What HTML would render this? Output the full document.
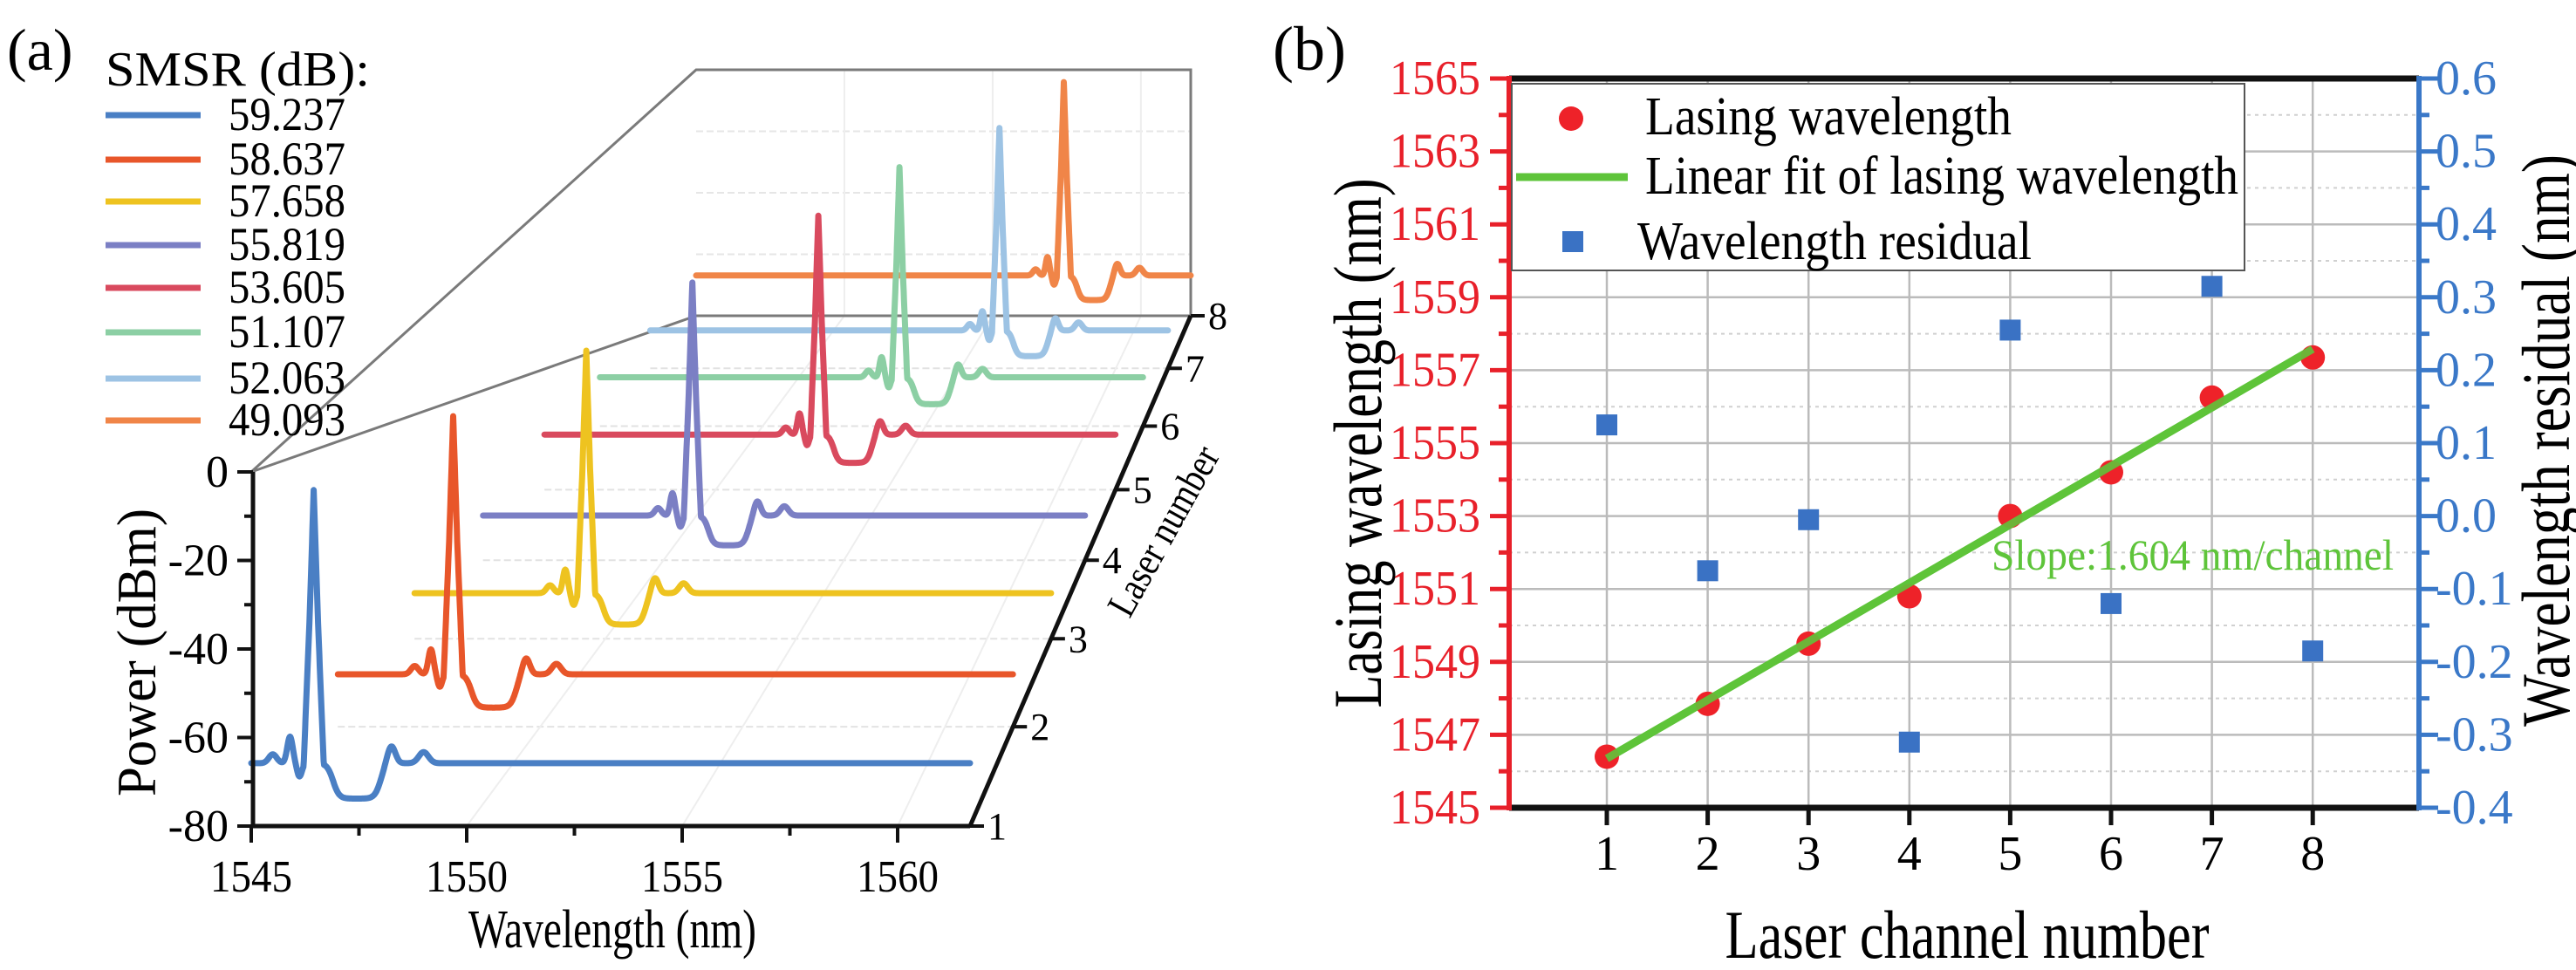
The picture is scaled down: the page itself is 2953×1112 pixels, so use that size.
<!DOCTYPE html>
<html><head><meta charset="utf-8"><style>
html,body{margin:0;padding:0;background:#fff;}
svg, svg text{font-family:"Liberation Serif","Times New Roman",serif;}
</style></head><body>
<svg id="fig" width="2953" height="1107" viewBox="0 0 2953 1107" xmlns="http://www.w3.org/2000/svg" font-family="Liberation Serif, serif">
<g id="pa" font-family="Liberation Serif, serif"></g>
<g id="pb" font-family="Liberation Serif, serif"></g>
</svg>
<script>
// ---------- Panel (a) data ----------
const lasers = [1,2,3,4,5,6,7,8];
const smsrLabels = ["59.237","58.637","57.658","55.819","53.605","51.107","52.063","49.093"];
const traceColors = ["#4a7fc4","#e8562a","#eec320","#7b7fc4","#d94a5e","#8ccfa4","#9dc3e4","#f08548"];
const peakWl = [1546.45,1547.85,1549.5,1550.8,1553.0,1554.2,1556.25,1557.4];
const peakPow = [-4.1,-5.4,-6.7,-5.4,-2.5,-3.1,-5.2,-4.0];
const basePow = [-65.8,-67.4,-68.4,-68.0,-64.4,-65.5,-68.2,-66.9];
const wlTicks = [1545,1550,1555,1560];
const powTicks = [0,-20,-40,-60,-80];
// ---------- Panel (b) data ----------
const channels = [1,2,3,4,5,6,7,8];
const lasingWl = [1546.4,1547.85,1549.5,1550.8,1553.0,1554.2,1556.25,1557.35];
const residual = [0.125,-0.075,-0.005,-0.31,0.255,-0.12,0.315,-0.185];
const fitChannels = [1,8];
const fitWl = [1546.35,1557.58];
const leftTicks = [1565,1563,1561,1559,1557,1555,1553,1551,1549,1547,1545];
const rightTicks = ["0.6","0.5","0.4","0.3","0.2","0.1","0.0","-0.1","-0.2","-0.3","-0.4"];

const NS="http://www.w3.org/2000/svg";
const FF="Liberation Serif, serif";
function mk(parent,tag,attrs,text){const e=document.createElementNS(NS,tag);for(const k in attrs)e.setAttribute(k,attrs[k]);if(tag==='text')e.setAttribute('font-family',FF);if(text!==undefined)e.textContent=text;parent.appendChild(e);return e;}

// ---------- Panel (a) ----------
const pa=document.getElementById('pa');
function proj(w,P,n){const t=(n-1)/7;const u=1.45*t/(1+0.45*t);const fx=(w-1545)/16.68;const fy=(P+80)/80;
 const xF=288+fx*824,yF=947-fy*406,xB=798+fx*567,yB=362-fy*282;return [xF+(xB-xF)*u,yF+(yB-yF)*u];}
for(let n=2;n<=8;n++){const a=proj(1545,-80,n),b=proj(1561.68,-80,n);
 const g=mk(pa,'line',{x1:a[0],y1:a[1],x2:b[0],y2:b[1],stroke:'#e2e2e2','stroke-width':2,'stroke-dasharray':'8 4'});
 
 }
[-20,-40,-60].forEach(p=>{const a=proj(1545,p,8),b=proj(1561.68,p,8);
 const g=mk(pa,'line',{x1:a[0],y1:a[1],x2:b[0],y2:b[1],stroke:'#e6e6e6','stroke-width':2,'stroke-dasharray':'8 4'});
 
 });
[1550,1555,1560].forEach(w=>{const a=proj(w,-80,8),b=proj(w,0,8);
 const g=mk(pa,'line',{x1:a[0],y1:a[1],x2:b[0],y2:b[1],stroke:'#eeeeee','stroke-width':2});
 
 
 const c=proj(w,-80,1);
 const f=mk(pa,'line',{x1:c[0],y1:c[1],x2:a[0],y2:a[1],stroke:'#eeeeee','stroke-width':2});
 
 });
{const tl=proj(1545,0,8),tr=proj(1561.68,0,8),bl=proj(1545,-80,8),br=proj(1561.68,-80,8),ft=proj(1545,0,1);
 const b=mk(pa,'path',{d:`M${ft[0]},${ft[1]}L${tl[0]},${tl[1]}L${tr[0]},${tr[1]}L${br[0]},${br[1]}L${bl[0]},${bl[1]}Z`,fill:'none',stroke:'#7a7a7a','stroke-width':3});
 
 }
const sig=x=>1/(1+Math.exp(-x));
function specVal(w,i){const p=peakWl[i],B=basePow[i],Pk=peakPow[i];
 let v=B;
 v+=6*Math.exp(-Math.pow((w-(p-0.55))/0.09,2));
 v-=3*Math.exp(-Math.pow((w-(p-0.33))/0.08,2));
 const d=w-p;
 v-=8*sig((d-0.45)/0.07)*sig((1.55-d)/0.07);
 v+=4*Math.exp(-Math.pow((w-(p+1.8))/0.13,2));
 v+=2.5*Math.exp(-Math.pow((w-(p+2.55))/0.16,2));
 v+=2*Math.exp(-Math.pow((w-(p-0.95))/0.13,2));
 const pk=Pk-300*Math.abs(d)+60*Math.max(0,Math.abs(d)-0.1);
 return Math.max(v,pk);}
for(let i=7;i>=0;i--){let pts=[];for(let w=1545;w<=1561.68;w+=0.01){const q=proj(w,specVal(w,i),lasers[i]);pts.push(q[0].toFixed(1)+','+q[1].toFixed(1));}
 const pl=mk(pa,'polyline',{points:pts.join(' '),fill:'none',stroke:traceColors[i],'stroke-width':7,'stroke-linejoin':'round','stroke-linecap':'round'});
 
 }
{const ax=mk(pa,'path',{d:'M290,541L290,947L1112,947',fill:'none',stroke:'#111','stroke-width':5});
 
 
 for(let p=0;p>=-80;p-=10){const y=proj(1545,p,1)[1];const major=(p%20===0);
  mk(pa,'line',{x1:290,y1:y,x2:major?272:280,y2:y,stroke:'#111','stroke-width':4});}
 powTicks.forEach(p=>{const y=proj(1545,p,1)[1];
  const t=mk(pa,'text',{x:262,y:y+17,'text-anchor':'end','font-size':52},String(p));
  
  });
 for(let w=1545;w<=1561;w+=2.5){const x=proj(w,-80,1)[0];const major=(w%5===0);
  mk(pa,'line',{x1:x,y1:947,x2:x,y2:major?966:958,stroke:'#111','stroke-width':4});}
 wlTicks.forEach(w=>{const x=proj(w,-80,1)[0];
  const t=mk(pa,'text',{x:x,y:1022,'text-anchor':'middle','font-size':52,textLength:94,lengthAdjust:'spacingAndGlyphs'},String(w));
  
  });
 const dz0=proj(1561.68,-80,1),dz1=proj(1561.68,-80,8);
 const dz=mk(pa,'line',{x1:dz0[0],y1:dz0[1],x2:dz1[0],y2:dz1[1],stroke:'#111','stroke-width':5});
 
 
 lasers.forEach(n=>{const q=proj(1561.68,-80,n);
  mk(pa,'line',{x1:q[0],y1:q[1],x2:q[0]+16,y2:q[1],stroke:'#111','stroke-width':4});
  const t=mk(pa,'text',{x:q[0]+20,y:q[1]+15,'font-size':44},String(n));
  
  });
}
{let t=mk(pa,'text',{x:702,y:1086,'text-anchor':'middle','font-size':62,textLength:330,lengthAdjust:'spacingAndGlyphs'},'Wavelength (nm)');
 
 t=mk(pa,'text',{x:0,y:0,'text-anchor':'middle','font-size':64,textLength:330,lengthAdjust:'spacingAndGlyphs',transform:'translate(178,748) rotate(-90)'},'Power (dBm)');
 
 t=mk(pa,'text',{x:0,y:0,'text-anchor':'middle','font-size':46,textLength:215,lengthAdjust:'spacingAndGlyphs',transform:'translate(1347,616) rotate(-61)'},'Laser number');
 
 t=mk(pa,'text',{x:8,y:80,'font-size':68},'(a)');
 
 t=mk(pa,'text',{x:121,y:98,'font-size':56,textLength:303,lengthAdjust:'spacingAndGlyphs'},'SMSR (dB):');
 }
const legY=[132,183,231,281,330,381,434,482];
smsrLabels.forEach((s,i)=>{const g=mk(pa,'g',{});
 
 
 mk(g,'line',{x1:121,y1:legY[i],x2:230,y2:legY[i],stroke:traceColors[i],'stroke-width':7});
 mk(g,'text',{x:262,y:legY[i]+17,'font-size':54,textLength:134,lengthAdjust:'spacingAndGlyphs'},s);});

// ---------- Panel (b) ----------
const pb=document.getElementById('pb');
const X0=1730,X1=2773,Y0=90,Y1=926;
const xb=c=>1842+(c-1)*115.6;
const yL=v=>Y1-(v-1545)/20*(Y1-Y0);
const yR=r=>Y1-(r+0.4)/1.0*(Y1-Y0);
for(let v=1546;v<=1564;v+=2){const g=mk(pb,'line',{x1:X0,y1:yL(v),x2:X1,y2:yL(v),stroke:'#d0d0d0','stroke-width':2,'stroke-dasharray':'4 5'});
 }
leftTicks.forEach(v=>{const g=mk(pb,'line',{x1:X0,y1:yL(v),x2:X1,y2:yL(v),stroke:'#bbbbbb','stroke-width':2.5});
 });
channels.forEach(c=>{const g=mk(pb,'line',{x1:xb(c),y1:Y0,x2:xb(c),y2:Y1,stroke:'#bbbbbb','stroke-width':2.5});
 });
{let l=mk(pb,'line',{x1:X0,y1:Y0,x2:X1,y2:Y0,stroke:'#111','stroke-width':7});
 l=mk(pb,'line',{x1:X0,y1:Y1,x2:X1,y2:Y1,stroke:'#111','stroke-width':7});
 l=mk(pb,'line',{x1:X0,y1:Y0-3,x2:X0,y2:Y1+3,stroke:'#e8202a','stroke-width':6});
 l=mk(pb,'line',{x1:X1,y1:Y0-3,x2:X1,y2:Y1+3,stroke:'#3a78c8','stroke-width':6});}
for(let v=1545;v<=1565;v+=1){const major=((v-1545)%2===0);mk(pb,'line',{x1:X0,y1:yL(v),x2:X0-(major?22:12),y2:yL(v),stroke:'#e8202a','stroke-width':5});}
for(let k=0;k<=20;k++){const r=-0.4+k*0.05;const major=(k%2===0);mk(pb,'line',{x1:X1,y1:yR(r),x2:X1+(major?22:12),y2:yR(r),stroke:'#3a78c8','stroke-width':5});}
channels.forEach(c=>{mk(pb,'line',{x1:xb(c),y1:Y1,x2:xb(c),y2:Y1+20,stroke:'#111','stroke-width':5});
 const t=mk(pb,'text',{x:xb(c),y:997,'text-anchor':'middle','font-size':56},String(c));
 });
leftTicks.forEach(v=>{const t=mk(pb,'text',{x:1697,y:yL(v)+18,'text-anchor':'end','font-size':56,fill:'#e8202a',textLength:104,lengthAdjust:'spacingAndGlyphs'},String(v));
 });
rightTicks.forEach((s,k)=>{const t=mk(pb,'text',{x:2792,y:yR(0.6-k*0.1)+18,'font-size':56,fill:'#3a78c8'},s);
 });
{const l=mk(pb,'line',{x1:xb(fitChannels[0]),y1:yL(fitWl[0]),x2:xb(fitChannels[1]),y2:yL(fitWl[1]),stroke:'#5ec43a','stroke-width':9});
 }
lasingWl.forEach((v,i)=>{const c=mk(pb,'circle',{cx:xb(channels[i]),cy:yL(v),r:14,fill:'#ee2229'});
 });
{const l=mk(pb,'line',{x1:xb(fitChannels[0]),y1:yL(fitWl[0]),x2:xb(fitChannels[1]),y2:yL(fitWl[1]),stroke:'#5ec43a','stroke-width':9,'stroke-opacity':0.9});
 }
residual.forEach((r,i)=>{const s=mk(pb,'rect',{x:xb(channels[i])-12,y:yR(r)-12,width:24,height:24,fill:'#3a72c4'});
 });
{let t=mk(pb,'text',{x:2283,y:653,'font-size':50,fill:'#5ec43a',textLength:461,lengthAdjust:'spacingAndGlyphs'},'Slope:1.604 nm/channel');
 }
{const g=mk(pb,'g',{});
 mk(g,'rect',{x:1733,y:96,width:840,height:214,fill:'#fff',stroke:'#555','stroke-width':2});
 mk(g,'circle',{cx:1801,cy:136,r:14,fill:'#ee2229'});
 mk(g,'text',{x:1886,y:154,'font-size':62,textLength:420,lengthAdjust:'spacingAndGlyphs'},'Lasing wavelength');
 mk(g,'line',{x1:1738,y1:203,x2:1866,y2:203,stroke:'#5ec43a','stroke-width':9});
 mk(g,'text',{x:1886,y:222,'font-size':62,textLength:680,lengthAdjust:'spacingAndGlyphs'},'Linear fit of lasing wavelength');
 mk(g,'rect',{x:1791,y:265,width:24,height:24,fill:'#3a72c4'});
 mk(g,'text',{x:1877,y:297,'font-size':62,textLength:452,lengthAdjust:'spacingAndGlyphs'},'Wavelength residual');}
{let t=mk(pb,'text',{x:2255,y:1098,'text-anchor':'middle','font-size':78,textLength:555,lengthAdjust:'spacingAndGlyphs'},'Laser channel number');
 
 t=mk(pb,'text',{x:0,y:0,'text-anchor':'middle','font-size':78,textLength:607,lengthAdjust:'spacingAndGlyphs',transform:'translate(1583,508) rotate(-90)'},'Lasing wavelength (nm)');
 
 t=mk(pb,'text',{x:0,y:0,'text-anchor':'middle','font-size':78,textLength:656,lengthAdjust:'spacingAndGlyphs',transform:'translate(2945,505) rotate(-90)'},'Wavelength residual (nm)');
 
 t=mk(pb,'text',{x:1459,y:80,'font-size':72},'(b)');
 }
</script>
</body></html>
